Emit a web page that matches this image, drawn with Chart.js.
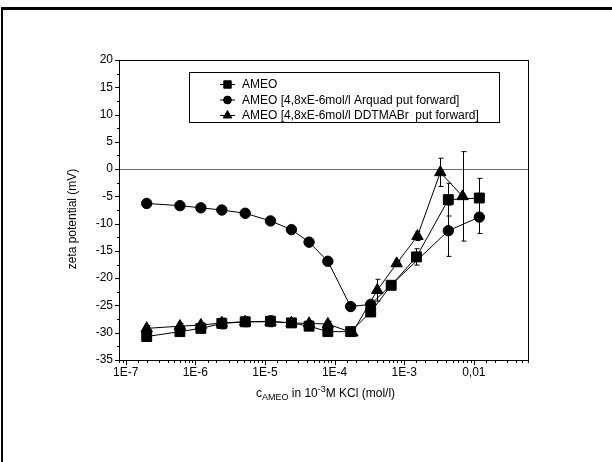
<!DOCTYPE html>
<html>
<head>
<meta charset="utf-8">
<script src="https://cdn.jsdelivr.net/npm/chart.js@4.4.1/dist/chart.umd.min.js"></script>
<style>
    body { margin: 0; background: #fff; }
    #wrap { position: relative; width: 612px; height: 462px; overflow: hidden; }
    #zeta-chart { position: absolute; left: 0; top: 0; }
    .frame { position: absolute; left: 1px; top: 7px; width: 620px; height: 470px; border-top: 3px solid #000; border-left: 2px solid #000; }
</style>
</head>
<body>
<div id="wrap">
    <canvas id="zeta-chart" width="612" height="462"></canvas>
    <div class="frame"></div>
</div>
<script>
const ameoConc = [2e-7, 6e-7, 1.2e-6, 2.4e-6, 5.2e-6, 1.2e-5, 2.4e-5, 4.3e-5, 8e-5, 1.7e-4, 3.3e-4, 6.5e-4, 1.5e-3, 4.3e-3, 1.2e-2];
const ameoZeta = [-30.7, -29.8, -29.2, -28.3, -28.0, -27.9, -28.2, -28.8, -29.8, -29.8, -26.2, -21.3, -16.1, -5.6, -5.3];
const ameoErr = [0.8, 0.8, 0.8, 1.0, 0.9, 1.0, 0.8, 0.7, 0.5, 0.5, 0.6, 0.6, 1.5, 3.0, 3.6];

const arquadConc = [2e-7, 6e-7, 1.2e-6, 2.4e-6, 5.2e-6, 1.2e-5, 2.4e-5, 4.3e-5, 8e-5, 1.7e-4, 3.3e-4, 4.3e-3, 1.2e-2];
const arquadZeta = [-6.3, -6.7, -7.1, -7.5, -8.1, -9.5, -11.1, -13.4, -16.9, -25.2, -24.8, -11.3, -8.8];
const arquadErr = [0, 0, 0, 0, 0, 0, 0, 0, 0, 0, 0.5, 4.7, 3.0];

const ddtmabConc = [2e-7, 6e-7, 1.2e-6, 2.4e-6, 5.2e-6, 1.2e-5, 2.4e-5, 4.3e-5, 8e-5, 1.8e-4, 4.1e-4, 7.8e-4, 1.55e-3, 3.3e-3, 6.9e-3];
const ddtmabZeta = [-29.2, -28.8, -28.6, -28.2, -28.0, -28.0, -28.2, -28.3, -28.4, -30.0, -22.2, -17.3, -12.3, -0.6, -5.0];
const ddtmabErr = [0.5, 0.5, 0.5, 0.5, 0.6, 0.6, 0.5, 0.5, 0.5, 0.4, 2.0, 0.5, 0.8, 2.6, 8.2];

const seriesLabels = [
    'AMEO',
    'AMEO [4,8xE-6mol/l Arquad put forward]',
    'AMEO [4,8xE-6mol/l DDTMABr  put forward]',
];
const xTickLabels = { '-7': '1E-7', '-6': '1E-6', '-5': '1E-5', '-4': '1E-4', '-3': '1E-3', '-2': '0,01' };

const FONT = 'Arial, "Liberation Sans", sans-serif';

function toPoints(xs, ys) {
    return xs.map((x, i) => ({ x: x, y: ys[i] }));
}

function makeDataset(label, xs, ys, errs, style, radius) {
    return {
        label: label,
        data: toPoints(xs, ys),
        errors: errs,
        borderColor: '#000',
        backgroundColor: '#000',
        borderWidth: 1,
        pointStyle: style,
        pointRadius: radius,
        pointBorderWidth: 1,
        pointBackgroundColor: '#000',
        pointBorderColor: '#000',
        tension: 0,
        fill: false,
    };
}

// error bars, axis frame, tick marks, titles and the boxed legend
const decorations = {
    id: 'decorations',
    beforeDatasetsDraw(chart) {
        const ctx = chart.ctx;
        const ys = chart.scales.y;
        ctx.save();
        ctx.strokeStyle = '#000';
        ctx.lineWidth = 1;
        chart.data.datasets.forEach((ds, i) => {
            const meta = chart.getDatasetMeta(i);
            ds.data.forEach((p, j) => {
                const e = ds.errors[j];
                if (!e) return;
                const x = Math.round(meta.data[j].x) + 0.5;
                const y1 = ys.getPixelForValue(p.y + e);
                const y2 = ys.getPixelForValue(p.y - e);
                ctx.beginPath();
                ctx.moveTo(x, y1);
                ctx.lineTo(x, y2);
                ctx.moveTo(x - 2, y1);
                ctx.lineTo(x + 3, y1);
                ctx.moveTo(x - 2, y2);
                ctx.lineTo(x + 3, y2);
                ctx.stroke();
            });
        });
        ctx.restore();
    },
    afterDraw(chart) {
        const ctx = chart.ctx;
        const area = chart.chartArea;
        const xs = chart.scales.x;
        const ys = chart.scales.y;
        ctx.save();
        ctx.strokeStyle = '#000';
        ctx.fillStyle = '#000';
        ctx.lineWidth = 1;
        ctx.strokeRect(Math.round(area.left) + 0.5, Math.round(area.top) + 0.5,
            Math.round(area.right - area.left), Math.round(area.bottom - area.top));

        ctx.beginPath();
        ys.ticks.forEach(t => {
            const y = Math.round(ys.getPixelForValue(t.value)) + 0.5;
            const len = t.value % 5 === 0 ? 4 : 2;
            ctx.moveTo(area.left - len, y);
            ctx.lineTo(area.left, y);
        });
        xs.ticks.forEach(t => {
            const x = Math.round(xs.getPixelForValue(t.value)) + 0.5;
            if (x < area.left || x > area.right + 1) return;
            const e = Math.log10(t.value);
            const len = Math.abs(e - Math.round(e)) < 1e-6 ? 5 : 3;
            ctx.moveTo(x, area.bottom);
            ctx.lineTo(x, area.bottom + len);
        });
        ctx.stroke();

        // y title
        ctx.font = '12px ' + FONT;
        ctx.textAlign = 'center';
        ctx.textBaseline = 'middle';
        ctx.save();
        ctx.translate(73, (area.top + area.bottom) / 2 + 9);
        ctx.rotate(-Math.PI / 2);
        ctx.fillText('zeta potential (mV)', 0, 0);
        ctx.restore();

        // x title with subscript and superscript
        const parts = [
            { t: 'c', size: 12, dy: 0 },
            { t: 'AMEO', size: 9, dy: 3 },
            { t: ' in 10', size: 12, dy: 0 },
            { t: '-3', size: 9, dy: -5 },
            { t: 'M KCl (mol/l)', size: 12, dy: 0 },
        ];
        let total = 0;
        parts.forEach(p => {
            ctx.font = p.size + 'px ' + FONT;
            p.w = ctx.measureText(p.t).width;
            total += p.w;
        });
        let tx = (area.left + area.right) / 2 + 2 - total / 2;
        const baseY = area.bottom + 37;
        ctx.textAlign = 'left';
        ctx.textBaseline = 'alphabetic';
        parts.forEach(p => {
            ctx.font = p.size + 'px ' + FONT;
            ctx.fillText(p.t, tx, baseY + p.dy);
            tx += p.w;
        });

        // legend box
        const lx = Math.round(area.left) + 70;
        const ly = Math.round(area.top) + 12;
        ctx.strokeRect(lx + 0.5, ly + 0.5, 310, 50);
        ctx.font = '12px ' + FONT;
        ctx.textBaseline = 'middle';
        chart.data.datasets.forEach((ds, i) => {
            const rowY = ly + 12.5 + i * 15.5;
            ctx.beginPath();
            ctx.moveTo(lx + 31, rowY);
            ctx.lineTo(lx + 46, rowY);
            ctx.stroke();
            Chart.helpers.drawPoint(ctx, {
                pointStyle: ds.pointStyle,
                radius: ds.pointRadius * 0.75,
                rotation: 0,
                borderWidth: 1,
            }, lx + 38.5, rowY);
            ctx.fillText(ds.label, lx + 53, rowY + 0.5);
        });
        ctx.restore();
    },
};

const ctx = document.getElementById('zeta-chart').getContext('2d');
const zetaChart = new Chart(ctx, {
    type: 'line',
    data: {
        datasets: [
            makeDataset(seriesLabels[0], ameoConc, ameoZeta, ameoErr, 'rect', 7),
            makeDataset(seriesLabels[1], arquadConc, arquadZeta, arquadErr, 'circle', 5.2),
            makeDataset(seriesLabels[2], ddtmabConc, ddtmabZeta, ddtmabErr, 'triangle', 6.6),
        ],
    },
    options: {
        responsive: false,
        animation: false,
        layout: {
            padding: { left: 0, top: 60, right: 84, bottom: 72 },
        },
        plugins: {
            legend: { display: false },
            tooltip: { enabled: false },
        },
        scales: {
            x: {
                type: 'logarithmic',
                min: 8e-8,
                max: 0.06,
                afterFit(scale) { scale.height = 30; },
                border: { display: false },
                grid: { display: false, drawTicks: false },
                ticks: {
                    autoSkip: false,
                    maxRotation: 0,
                    padding: 5,
                    color: '#000',
                    font: { family: FONT, size: 12 },
                    callback(value) {
                        const e = Math.log10(value);
                        if (Math.abs(e - Math.round(e)) > 1e-6) return '';
                        return xTickLabels[String(Math.round(e))] || '';
                    },
                },
            },
            y: {
                min: -35,
                max: 20,
                afterFit(scale) { scale.width = 119; },
                border: { display: false },
                grid: {
                    drawTicks: false,
                    lineWidth: 1,
                    color: c => (c.tick && c.tick.value === 0 ? '#6e6e6e' : 'rgba(0,0,0,0)'),
                },
                ticks: {
                    stepSize: 2.5,
                    autoSkip: false,
                    padding: 6,
                    color: '#000',
                    font: { family: FONT, size: 12 },
                    callback: value => (value % 5 === 0 ? String(value) : ''),
                },
            },
        },
    },
    plugins: [decorations],
});
</script>
</body>
</html>
